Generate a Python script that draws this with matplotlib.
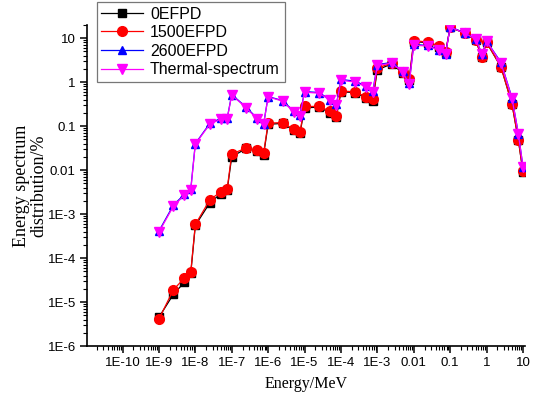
import numpy as np
import matplotlib
matplotlib.use('Agg')
import matplotlib.pyplot as plt
from matplotlib.ticker import LogLocator, FixedLocator, NullFormatter

# energy group points, MeV (1, 2.5, 5, 7.5 per decade)
energy = [1e-9, 2.5e-9, 5e-9, 7.5e-9,
          1e-8, 2.5e-8, 5e-8, 7.5e-8,
          1e-7, 2.5e-7, 5e-7, 7.5e-7,
          1e-6, 2.5e-6, 5e-6, 7.5e-6,
          1e-5, 2.5e-5, 5e-5, 7.5e-5,
          1e-4, 2.5e-4, 5e-4, 7.5e-4,
          1e-3, 2.5e-3, 5e-3, 7.5e-3,
          1e-2, 2.5e-2, 5e-2, 7.5e-2,
          0.1, 0.25, 0.5, 0.75,
          1, 2.5, 5, 7.5, 10]

efpd_0 = [4.5e-6, 1.5e-5, 2.8e-5, 4.5e-5,
          5.5e-4, 1.8e-3, 2.9e-3, 3.5e-3,
          0.020, 0.031, 0.027, 0.022,
          0.11, 0.115, 0.080, 0.068,
          0.26, 0.27, 0.20, 0.16,
          0.60, 0.58, 0.43, 0.38,
          1.9, 2.6, 1.6, 1.1,
          8.3, 7.9, 6.4, 4.7,
          17.5, 13.0, 9.0, 3.7,
          8.0, 2.2, 0.32, 0.048, 0.0092]

efpd_1500 = [4.1e-6, 1.9e-5, 3.5e-5, 4.8e-5,
             5.8e-4, 2.1e-3, 3.2e-3, 3.7e-3,
             0.023, 0.032, 0.028, 0.024,
             0.117, 0.12, 0.085, 0.073,
             0.28, 0.28, 0.22, 0.17,
             0.63, 0.60, 0.46, 0.41,
             2.1, 2.7, 1.7, 1.17,
             8.8, 8.1, 6.6, 4.8,
             17.8, 13.0, 9.0, 3.7,
             8.1, 2.2, 0.32, 0.048, 0.0093]

efpd_2600 = [4.1e-4, 1.6e-3, 2.8e-3, 3.7e-3,
             0.040, 0.115, 0.15, 0.15,
             0.52, 0.27, 0.15, 0.11,
             0.47, 0.38, 0.22, 0.18,
             0.61, 0.58, 0.40, 0.31,
             1.15, 1.05, 0.80, 0.62,
             2.5, 2.8, 1.75, 0.95,
             7.2, 6.8, 5.5, 4.4,
             18.0, 13.2, 9.6, 4.4,
             8.6, 2.8, 0.44, 0.067, 0.012]

thermal = [3.9e-4, 1.5e-3, 2.7e-3, 3.5e-3,
           0.039, 0.11, 0.145, 0.145,
           0.51, 0.26, 0.145, 0.11,
           0.46, 0.37, 0.21, 0.17,
           0.59, 0.56, 0.39, 0.30,
           1.1, 1.0, 0.77, 0.59,
           2.4, 2.7, 1.7, 0.9,
           6.9, 6.6, 5.3, 4.3,
           17.8, 13.0, 9.5, 4.3,
           8.5, 2.7, 0.43, 0.066, 0.012]

plt.rcParams['font.family'] = ['Liberation Sans', 'DejaVu Sans']

fig = plt.figure(figsize=(5.33, 3.95), dpi=100)
ax = fig.add_axes([0.163, 0.124, 0.822, 0.813])

ax.plot(energy, efpd_0, '-s', color='black', lw=0.9, ms=5.5,
        label='0EFPD')
ax.plot(energy, efpd_1500, '-o', color='red', lw=0.9, ms=7,
        label='1500EFPD')
ax.plot(energy, efpd_2600, '-^', color='blue', lw=0.9, ms=6,
        label='2600EFPD')
ax.plot(energy, thermal, '-v', color='magenta', lw=0.9, ms=7,
        label='Thermal-spectrum')

ax.set_xscale('log')
ax.set_yscale('log')
ax.set_xlim(1.05e-11, 11.4)
ax.set_ylim(1e-6, 20)

# Origin style: only left and bottom axes
ax.spines['top'].set_visible(False)
ax.spines['right'].set_visible(False)
ax.spines['left'].set_linewidth(1.2)
ax.spines['bottom'].set_linewidth(1.2)

xmaj = [10.0 ** k for k in range(-10, 2)]
ax.xaxis.set_major_locator(FixedLocator(xmaj))
ax.set_xticklabels(['1E-10', '1E-9', '1E-8', '1E-7', '1E-6', '1E-5',
                    '1E-4', '1E-3', '0.01', '0.1', '1', '10'])
ax.xaxis.set_minor_locator(LogLocator(base=10, subs=np.arange(2, 10),
                                      numticks=30))
ax.xaxis.set_minor_formatter(NullFormatter())

ymaj = [10.0 ** k for k in range(-6, 2)]
ax.yaxis.set_major_locator(FixedLocator(ymaj))
ax.set_yticklabels(['1E-6', '1E-5', '1E-4', '1E-3', '0.01', '0.1',
                    '1', '10'])
ax.yaxis.set_minor_locator(LogLocator(base=10, subs=np.arange(2, 10),
                                      numticks=30))
ax.yaxis.set_minor_formatter(NullFormatter())

ax.tick_params(which='major', direction='out', length=5, width=1.1,
               labelsize=9.5, pad=3)
ax.tick_params(which='minor', direction='out', length=3, width=0.8)

ax.set_xlabel('Energy/MeV', family='Liberation Serif', fontsize=11.5,
              labelpad=5)
ax.set_ylabel('Energy spectrum\ndistribution/%', family='Liberation Serif',
              fontsize=13, labelpad=0, linespacing=1.05)

leg = ax.legend(loc='upper left', bbox_to_anchor=(0.022, 1.072),
                fontsize=11.5, frameon=True, fancybox=False,
                edgecolor='#555555', handlelength=2.6, borderpad=0.3,
                labelspacing=0.22, handletextpad=0.45, borderaxespad=0)
leg.get_frame().set_linewidth(0.9)

fig.savefig('out.png', dpi=100)
